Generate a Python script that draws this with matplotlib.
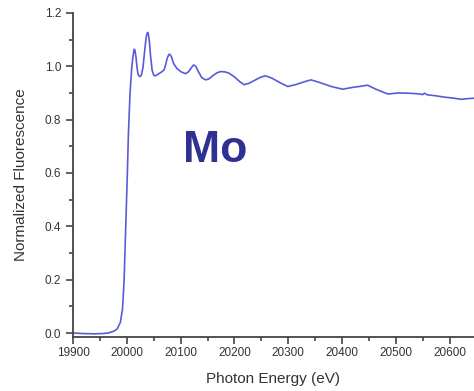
import numpy as np
import matplotlib.pyplot as plt
from matplotlib.ticker import MultipleLocator

# Mo K-edge XANES, normalized fluorescence vs photon energy
energy = [19900, 19920, 19940, 19955, 19965, 19975, 19982, 19988, 19992, 19995,
          19998, 20001, 20003, 20006, 20009, 20011, 20013, 20014, 20015, 20017,
          20019, 20021, 20024, 20027, 20030, 20033, 20036, 20038, 20039, 20040,
          20042, 20044, 20047, 20050, 20053, 20058, 20064, 20069, 20072, 20075,
          20078, 20080, 20083, 20087, 20093, 20100, 20109, 20115, 20120, 20124,
          20128, 20133, 20139, 20146, 20152, 20160, 20168, 20174, 20182, 20190,
          20200, 20210, 20218, 20228, 20240, 20250, 20258, 20270, 20285, 20299,
          20315, 20330, 20342, 20360, 20380, 20401, 20420, 20435, 20447, 20465,
          20485, 20505, 20522, 20540, 20550, 20553, 20558, 20575, 20591, 20605,
          20622, 20635, 20644]
fluor = [0.000, -0.002, -0.003, -0.002, 0.000, 0.006, 0.015, 0.04, 0.09, 0.20,
         0.40, 0.60, 0.75, 0.90, 0.99, 1.03, 1.058, 1.064, 1.060, 1.035,
         0.995, 0.968, 0.961, 0.966, 0.995, 1.055, 1.110, 1.125, 1.127, 1.122,
         1.090, 1.040, 0.985, 0.966, 0.964, 0.970, 0.978, 0.986, 1.005, 1.030,
         1.044, 1.045, 1.035, 1.010, 0.992, 0.980, 0.972, 0.980, 0.995, 1.005,
         1.000, 0.980, 0.958, 0.949, 0.952, 0.965, 0.976, 0.980, 0.979, 0.974,
         0.960, 0.942, 0.931, 0.937, 0.950, 0.960, 0.964, 0.955, 0.938, 0.924,
         0.932, 0.942, 0.949, 0.938, 0.924, 0.914, 0.921, 0.925, 0.929, 0.912,
         0.896, 0.900, 0.899, 0.897, 0.894, 0.899, 0.893, 0.889, 0.884, 0.881,
         0.876, 0.879, 0.880]

plt.rcParams['font.family'] = ['Liberation Sans', 'DejaVu Sans']

fig = plt.figure(figsize=(4.74, 3.91), dpi=100)
ax = fig.add_axes([0.154, 0.138, 0.846, 0.829])

ax.plot(energy, fluor, color='#5a5ad8', lw=1.2)

# element label, placed in figure pixels
fig.text(215 / 474, 1 - 161.5 / 391, 'Mo', fontsize=32, fontweight='bold',
         color='#2e3192', ha='center', va='baseline')

ax.set_xlim(19900, 20645)
ax.set_ylim(-0.015, 1.2)
ax.xaxis.set_major_locator(MultipleLocator(100))
ax.xaxis.set_minor_locator(MultipleLocator(50))
ax.yaxis.set_major_locator(MultipleLocator(0.2))
ax.yaxis.set_minor_locator(MultipleLocator(0.1))
ax.yaxis.set_major_formatter(plt.FuncFormatter(lambda v, p: f'{v:.1f}'))

for side in ['top', 'right']:
    ax.spines[side].set_visible(False)
for side in ['left', 'bottom']:
    ax.spines[side].set_color('#444444')
    ax.spines[side].set_linewidth(1.3)

ax.tick_params(which='major', length=5, width=1.2, color='#444444',
               labelsize=8.5, labelcolor='#333333', direction='out')
ax.tick_params(axis='x', which='major', pad=2.5)
ax.tick_params(which='minor', length=3, width=1.2, color='#444444', direction='out')

ax.set_xlabel('Photon Energy (eV)', fontsize=11, color='#333333', labelpad=9)
ax.set_ylabel('Normalized Fluorescence', fontsize=11, color='#333333', labelpad=12)

fig.savefig('out.png', dpi=100)
